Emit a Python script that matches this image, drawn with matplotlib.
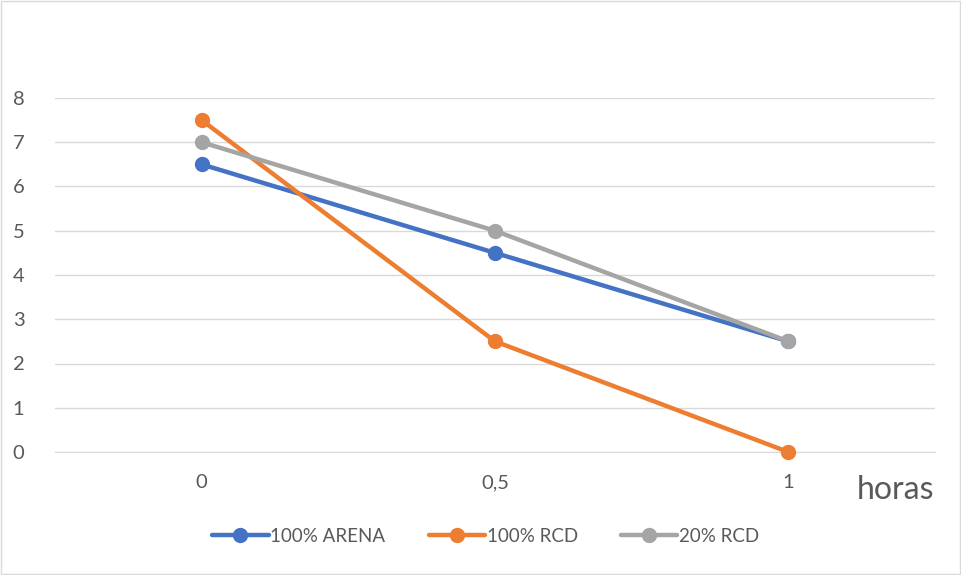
import matplotlib.pyplot as plt
from matplotlib.patches import Rectangle

# -----------------------------
# Data
# -----------------------------
categories = ["0", "0,5", "1"]
arena_100 = [6.5, 4.5, 2.5]
rcd_100 = [7.5, 2.5, 0.0]
rcd_20 = [7.0, 5.0, 2.5]
series_names = ["100% ARENA", "100% RCD", "20% RCD"]
series_colors = ["#4472C4", "#ED7D31", "#A5A5A5"]

TEXT = "#595959"
GRID = "#D9D9D9"

plt.rcParams['font.family'] = ['Lato', 'DejaVu Sans']

fig = plt.figure(figsize=(9.62, 5.75), dpi=100)
ax = fig.add_axes([55 / 962, 123 / 575, 880 / 962, 354 / 575])

x = range(len(categories))
for values, name, color in zip([arena_100, rcd_100, rcd_20], series_names, series_colors):
    ax.plot(x, values, color=color, linewidth=3.2, marker="o", markersize=10,
            label=name, solid_capstyle="round", clip_on=False, zorder=3)

ax.set_xlim(-0.5, len(categories) - 0.5)
ax.set_ylim(0, 8)
ax.set_yticks(range(0, 9))
ax.set_xticks(list(x))
ax.set_xticklabels(categories)
ax.grid(axis="y", color=GRID, linewidth=1)
ax.set_axisbelow(True)
for side in ["top", "right", "left"]:
    ax.spines[side].set_visible(False)
ax.spines["bottom"].set_color(GRID)
ax.tick_params(axis="both", length=0, labelsize=14.5, colors=TEXT)
ax.tick_params(axis="y", pad=22)
ax.tick_params(axis="x", pad=16)

# Axis title at the bottom right
fig.text(934 / 962, 1 - 490 / 575, "horas", ha="right", va="center",
         fontsize=23, color=TEXT)

fig.legend(loc="center", bbox_to_anchor=(0.505, 1 - 536 / 575), ncol=3,
           frameon=False, fontsize=13.5, labelcolor=TEXT, handlelength=3,
           handletextpad=0.1, columnspacing=2.3)

# Chart border
fig.patches.append(Rectangle((0.001, 0.001), 0.997, 0.997, transform=fig.transFigure,
                             fill=False, edgecolor="#D9D9D9", linewidth=1))

fig.savefig("out.png", dpi=100)
